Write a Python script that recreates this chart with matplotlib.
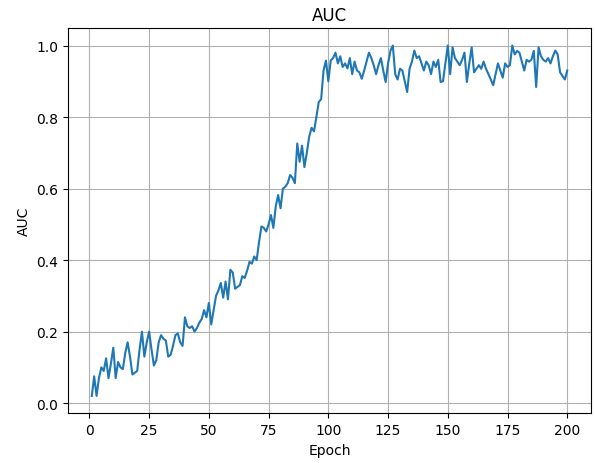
import numpy as np
import matplotlib
matplotlib.use('Agg')
import matplotlib.pyplot as plt

# AUC per epoch
epochs = np.arange(1, 201)
auc = [
    0.02, 0.075, 0.02, 0.07, 0.10, 0.09, 0.125, 0.07, 0.11, 0.155,
    0.07, 0.115, 0.10, 0.095, 0.14, 0.17, 0.13, 0.08, 0.085, 0.09,
    0.15, 0.20, 0.13, 0.17, 0.20, 0.15, 0.105, 0.12, 0.17, 0.19,
    0.18, 0.175, 0.13, 0.135, 0.16, 0.19, 0.195, 0.17, 0.16, 0.24,
    0.215, 0.21, 0.215, 0.20, 0.21, 0.225, 0.235, 0.26, 0.24, 0.28,
    0.22, 0.26, 0.30, 0.315, 0.336, 0.295, 0.34, 0.29, 0.373, 0.365,
    0.32, 0.325, 0.33, 0.355, 0.35, 0.37, 0.395, 0.39, 0.41, 0.40,
    0.45, 0.494, 0.49, 0.48, 0.50, 0.526, 0.49, 0.55, 0.582, 0.545,
    0.60, 0.605, 0.615, 0.638, 0.63, 0.615, 0.726, 0.675, 0.72, 0.66,
    0.70, 0.745, 0.77, 0.76, 0.80, 0.842, 0.85, 0.93, 0.958, 0.90,
    0.958, 0.965, 0.98, 0.95, 0.97, 0.94, 0.95, 0.936, 0.965, 0.92,
    0.955, 0.93, 0.925, 0.907, 0.93, 0.955, 0.98, 0.965, 0.945, 0.92,
    0.945, 0.965, 0.93, 0.898, 0.95, 0.985, 1.0, 0.92, 0.905, 0.935,
    0.93, 0.90, 0.87, 0.935, 0.955, 0.986, 0.965, 0.97, 0.95, 0.93,
    0.955, 0.945, 0.92, 0.955, 0.94, 0.96, 0.898, 0.90, 0.95, 1.0,
    0.92, 0.995, 0.965, 0.955, 0.945, 0.96, 0.98, 0.898, 0.95, 0.995,
    0.925, 0.935, 0.945, 0.935, 0.955, 0.935, 0.92, 0.905, 0.889, 0.92,
    0.95, 0.93, 0.91, 0.95, 0.94, 0.945, 1.0, 0.975, 0.985, 0.98,
    0.955, 0.93, 0.96, 0.955, 0.96, 0.985, 0.884, 0.995, 0.97, 0.96,
    0.955, 0.965, 0.95, 0.97, 0.986, 0.975, 0.925, 0.915, 0.905, 0.93,
]

fig = plt.figure(figsize=(5.95, 4.64), dpi=100)
ax = fig.add_axes([0.1143, 0.1067, 0.879, 0.8308])
ax.plot(epochs, auc, color='#1f77b4')
ax.set_title('AUC')
ax.set_xlabel('Epoch')
ax.set_ylabel('AUC')
ax.set_xticks([0, 25, 50, 75, 100, 125, 150, 175, 200])
ax.grid(True)

plt.savefig('out.png', dpi=100)
plt.close()
